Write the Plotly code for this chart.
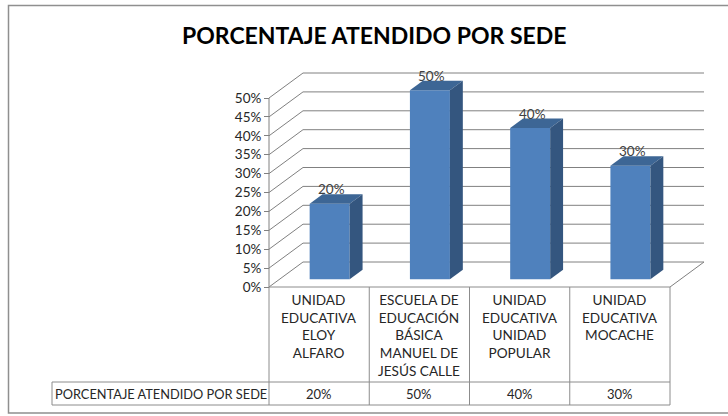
import plotly.graph_objects as go

# ---------------- data ----------------
categories = [
    "UNIDAD<br>EDUCATIVA<br>ELOY<br>ALFARO",
    "ESCUELA DE<br>EDUCACIÓN<br>BÁSICA<br>MANUEL DE<br>JESÚS CALLE",
    "UNIDAD<br>EDUCATIVA<br>UNIDAD<br>POPULAR",
    "UNIDAD<br>EDUCATIVA<br>MOCACHE",
]
values = [20, 50, 40, 30]
value_labels = ["20%", "50%", "40%", "30%"]
series_name = "PORCENTAJE ATENDIDO POR SEDE"
title_text = "PORCENTAJE ATENDIDO POR SEDE"
y_ticks = [0, 5, 10, 15, 20, 25, 30, 35, 40, 45, 50]
y_tick_labels = [f"{v}%" for v in y_ticks]

# ---------------- geometry ----------------
W, H = 728, 416
X0_PX = 269.0          # pixel of left edge of first category (front plane)
CAT_PX = 100.25        # pixels per category
Y0_PX = 287.0          # pixel of 0% on front plane
PCT_PX = 3.78          # pixels per 1%

def px_to_x(px):
    return -0.5 + (px - X0_PX) / CAT_PX

def py_to_y(py):
    return (Y0_PX - py) / PCT_PX

XR = [px_to_x(0), px_to_x(W)]
YR = [py_to_y(H), py_to_y(0)]

DX = 34.0 / CAT_PX     # full depth offset in x units
DY = 25.0 / PCT_PX     # full depth offset in y units
F0 = 0.31              # bar front depth fraction
FD = 0.38              # bar depth fraction
BAR_W = 40.0 / CAT_PX

n = len(categories)
x_left = -0.5
x_right = n - 0.5
ymax = max(y_ticks)

grid_col = "#808080"
shapes = []

# back wall gridlines + left wall diagonals
for t in y_ticks:
    shapes.append(dict(type="line", xref="x", yref="y", layer="below",
                       x0=x_left + DX, y0=t + DY, x1=x_right + DX, y1=t + DY,
                       line=dict(color=grid_col, width=1)))
    shapes.append(dict(type="line", xref="x", yref="y", layer="below",
                       x0=x_left, y0=t, x1=x_left + DX, y1=t + DY,
                       line=dict(color=grid_col, width=1)))
# floor right edge
shapes.append(dict(type="line", xref="x", yref="y", layer="below",
                   x0=x_right, y0=0, x1=x_right + DX, y1=DY,
                   line=dict(color=grid_col, width=1)))
# front axis line
shapes.append(dict(type="line", xref="x", yref="y", layer="below",
                   x0=x_left, y0=0, x1=x_left, y1=ymax,
                   line=dict(color=grid_col, width=1)))

# bar 3D faces
front_col = "#4F81BD"
side_col = "#34567F"
top_col = "#3D6695"
for i, v in enumerate(values):
    xc = i + F0 * DX
    xl = xc - BAR_W / 2
    xr = xc + BAR_W / 2
    b = F0 * DY
    t = b + v
    ddx, ddy = FD * DX, FD * DY
    top_path = (f"M{xl},{t} L{xr},{t} L{xr+ddx},{t+ddy} L{xl+ddx},{t+ddy} Z")
    side_path = (f"M{xr},{b} L{xr},{t} L{xr+ddx},{t+ddy} L{xr+ddx},{b+ddy} Z")
    shapes.append(dict(type="path", xref="x", yref="y", layer="above",
                       path=top_path, fillcolor=top_col, line=dict(width=0)))
    shapes.append(dict(type="path", xref="x", yref="y", layer="above",
                       path=side_path, fillcolor=side_col, line=dict(width=0)))

# ---------------- data table ----------------
tbl_col = "#8C8C8C"
row_mid_py = 382.0
row_bot_py = 405.0
lab_left_px = 52.0
y_mid = py_to_y(row_mid_py)
y_bot = py_to_y(row_bot_py)
x_lab = px_to_x(lab_left_px)
for k in range(n + 1):
    xb = -0.5 + k
    shapes.append(dict(type="line", xref="x", yref="y", layer="below",
                       x0=xb, y0=0, x1=xb, y1=y_bot,
                       line=dict(color=tbl_col, width=1)))
shapes.append(dict(type="line", xref="x", yref="y", layer="below",
                   x0=x_left, y0=0, x1=x_right, y1=0,
                   line=dict(color=tbl_col, width=1)))
for yy in (y_mid, y_bot):
    shapes.append(dict(type="line", xref="x", yref="y", layer="below",
                       x0=x_lab, y0=yy, x1=x_right, y1=yy,
                       line=dict(color=tbl_col, width=1)))
shapes.append(dict(type="line", xref="x", yref="y", layer="below",
                   x0=x_lab, y0=y_mid, x1=x_lab, y1=y_bot,
                   line=dict(color=tbl_col, width=1)))

# chart frame
shapes.append(dict(type="rect", xref="paper", yref="paper", layer="below",
                   x0=8.5 / W, y0=1 - 413 / H, x1=1.2, y1=1 - 5.5 / H,
                   line=dict(color="#8F8F8F", width=1.5)))

FONT = "Lato, 'Open Sans', sans-serif"
annotations = []
# bar value labels
for i, v in enumerate(values):
    xc = i + F0 * DX + 0.02
    annotations.append(dict(x=xc, y=F0 * DY + v + FD * DY, xref="x", yref="y",
                            text=value_labels[i], showarrow=False,
                            yanchor="bottom", yshift=-5,
                            font=dict(family=FONT, size=13.5, color="#404040")))
# category labels in table
for i, c in enumerate(categories):
    annotations.append(dict(x=i, y=py_to_y(290), xref="x", yref="y",
                            text=c, showarrow=False, yanchor="top",
                            align="center",
                            font=dict(family=FONT, size=13.6, color="#262626")))
# values row
for i, v in enumerate(value_labels):
    annotations.append(dict(x=i, y=(y_mid + y_bot) / 2, xref="x", yref="y",
                            text=v, showarrow=False, yanchor="middle",
                            font=dict(family=FONT, size=13, color="#262626")))
annotations.append(dict(x=(x_lab + x_left) / 2, y=(y_mid + y_bot) / 2,
                        xref="x", yref="y", text=series_name, showarrow=False,
                        yanchor="middle",
                        font=dict(family=FONT, size=12.8, color="#262626")))
# title
annotations.append(dict(x=374 / W, y=1 - 35 / H, xref="paper", yref="paper",
                        text=f"<b>{title_text}</b>", showarrow=False,
                        xanchor="center", yanchor="middle",
                        font=dict(family=FONT, size=23, color="#000000")))

fig = go.Figure()
fig.add_trace(go.Bar(
    x=[i + F0 * DX for i in range(n)],
    y=values,
    base=[F0 * DY] * n,
    width=BAR_W,
    marker=dict(color=front_col, line=dict(width=0)),
    name=series_name,
    hoverinfo="skip",
))

fig.update_layout(
    width=W, height=H,
    margin=dict(l=0, r=0, t=0, b=0),
    paper_bgcolor="white", plot_bgcolor="white",
    showlegend=False,
    shapes=shapes,
    annotations=annotations,
    xaxis=dict(range=XR, showgrid=False, zeroline=False, showticklabels=False,
               showline=False, fixedrange=True),
    yaxis=dict(range=YR, showgrid=False, zeroline=False, showline=False,
               tickvals=y_ticks, ticktext=y_tick_labels,
               ticks="outside", ticklen=5, tickcolor=grid_col,
               anchor="free", position=X0_PX / W, side="left",
               tickfont=dict(family=FONT, size=13.5, color="#262626"),
               fixedrange=True),
)

fig.write_html(
    "out.html",
    config={"displayModeBar": False},
    post_script="document.body.style.margin='0';document.body.style.padding='0';",
)
